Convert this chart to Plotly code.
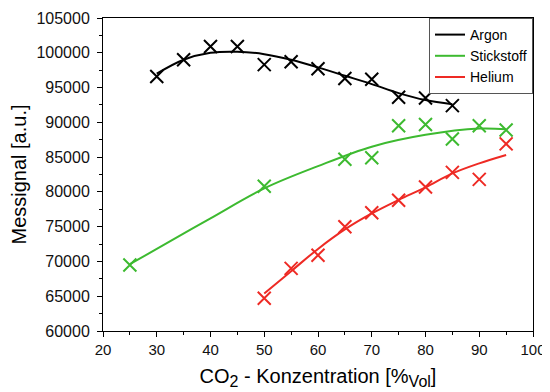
import plotly.graph_objects as go

# Measured points
x_argon = [30, 35, 40, 45, 50, 55, 60, 65, 70, 75, 80, 85]
y_argon = [96600, 99000, 100900, 100900, 98300, 98700, 97700, 96300, 96200, 93600, 93500, 92400]

x_stick = [25, 50, 65, 70, 75, 80, 85, 90, 95]
y_stick = [69500, 80800, 84700, 84900, 89500, 89700, 87600, 89500, 88900]

x_helium = [50, 55, 60, 65, 70, 75, 80, 85, 90, 95]
y_helium = [64700, 69000, 70900, 75000, 77000, 78800, 80700, 82800, 81800, 86900]

# Fit curves
fx_argon = [30, 35, 40, 45, 50, 55, 60, 65, 70, 75, 80, 85]
fy_argon = [97000, 99000, 100000, 100150, 99800, 99000, 97900, 96700, 95500, 94200, 93200, 92600]

fx_stick = [25, 30, 40, 50, 60, 70, 80, 90, 95]
fy_stick = [69600, 71800, 76200, 80500, 83700, 86500, 88200, 89100, 89000]

fx_helium = [50, 55, 60, 65, 70, 75, 80, 85, 90, 95]
fy_helium = [65400, 68600, 71800, 74600, 76900, 78850, 80650, 82650, 84100, 85300]

names = ["Argon", "Stickstoff", "Helium"]
colors = ["#000000", "#3dba30", "#ee2a24"]

FONT = "Arial, Liberation Sans, sans-serif"

fig = go.Figure()
data = [(x_argon, y_argon, fx_argon, fy_argon),
        (x_stick, y_stick, fx_stick, fy_stick),
        (x_helium, y_helium, fx_helium, fy_helium)]
for (xs, ys, fx, fy), name, c in zip(data, names, colors):
    fig.add_trace(go.Scatter(x=fx, y=fy, mode="lines", name=name,
                             line=dict(color=c, width=2, shape="spline", smoothing=1.0)))
    fig.add_trace(go.Scatter(x=xs, y=ys, mode="markers", showlegend=False,
                             marker=dict(symbol="x-thin", size=13,
                                         line=dict(color=c, width=2))))

axis_common = dict(showline=True, linecolor="#000", linewidth=1, mirror=True,
                   ticks="outside", ticklen=5, tickcolor="#000", showgrid=False,
                   zeroline=False, automargin=False,
                   minor=dict(ticks="outside", ticklen=3, tickcolor="#000"))

fig.update_xaxes(range=[20, 100], dtick=10, tick0=20,
                 tickfont=dict(family=FONT, size=15, color="#111"),
                 title=dict(text="CO<sub><span style='font-size:16px'>2</span></sub> - Konzentration [%<sub><span style='font-size:16px'>Vol</span></sub>]",
                            font=dict(family=FONT, size=20, color="#000"),
                            standoff=11),
                 **axis_common)
fig.update_xaxes(minor_dtick=5)
fig.update_yaxes(range=[60000, 105000], dtick=5000, tick0=60000, tickformat="d",
                 tickfont=dict(family=FONT, size=16, color="#111"),
                 ticklabelstandoff=4,
                 title=dict(text="Messignal [a.u.]",
                            font=dict(family=FONT, size=20, color="#000"),
                            standoff=4),
                 **axis_common)
fig.update_yaxes(minor_dtick=2500)

# page body has an 8px margin, so the figure is drawn 8px smaller and offset
fig.update_layout(
    width=542, height=384,
    margin=dict(l=95, r=17, t=10, b=61),
    plot_bgcolor="white", paper_bgcolor="white",
    legend=dict(x=1, y=1, xanchor="right", yanchor="top",
                bordercolor="#555", borderwidth=1, bgcolor="white",
                font=dict(family=FONT, size=14, color="#000"),
                tracegroupgap=0, itemwidth=30),
)

fig.write_html("out.html")
